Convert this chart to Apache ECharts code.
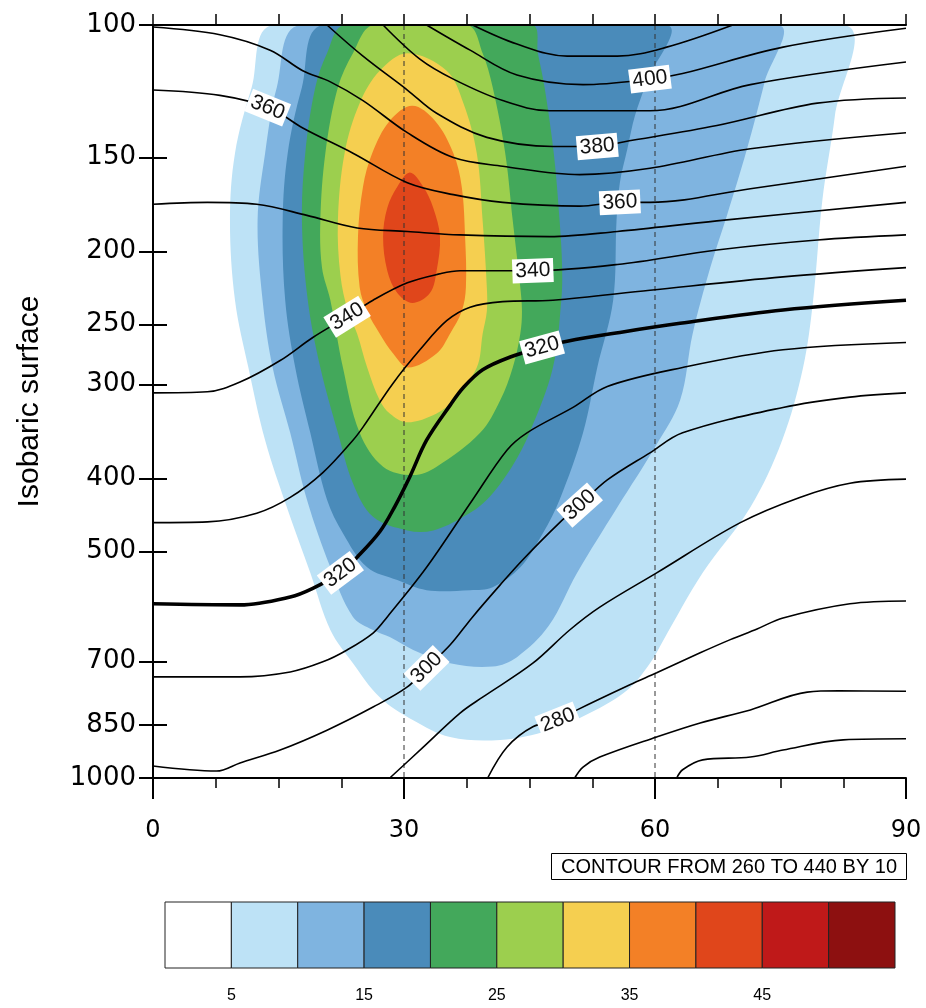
<!DOCTYPE html>
<html>
<head>
<meta charset="utf-8">
<script src="https://cdn.jsdelivr.net/npm/echarts@6/dist/echarts.min.js"></script>
<style>
  html, body { margin: 0; padding: 0; background: #fff; }
  #chart { width: 926px; height: 1008px; }
</style>
</head>
<body>
<div id="chart"></div>
<script>
// ---- data: [latitude, pressure hPa] ----
const pressureTicks = [100, 150, 200, 250, 300, 400, 500, 700, 850, 1000];
const latTicks = [0, 30, 60, 90];
const binEdges = [0, 5, 10, 15, 20, 25, 30, 35, 40, 45, 50, 55];
const barLabels = [5, 15, 25, 35, 45];
const shadeColors = ['#ffffff', '#bde2f6', '#7fb4e0', '#4a8bba', '#43a85b', '#9ccf4e',
                     '#f5cf50', '#f38026', '#e0461b', '#bf1919', '#8d1010'];

// wind speed shading, outline of each level (>=5, >=10, ...)
const spd5 = [[14.4,100],[82.6,100],[81.5,132],[80.0,171],[78.9,232],[77.7,285],[75.2,356],[71.4,437],[65.7,534],[61.0,656],[59.4,704],[56.7,764],[52.2,820],[47.4,864],[41.5,890],[35.5,882],[31.1,838],[27.1,781],[23.9,704],[21.2,636],[18.8,534],[16.0,437],[13.4,356],[11.4,285],[9.8,232],[9.2,182],[9.8,148],[11.8,121]];
const spd10 = [[17.6,100],[74.7,100],[73.1,119],[71.0,146],[68.6,179],[66.6,210],[64.5,257],[63.0,315],[60.1,362],[55.5,437],[50.7,534],[47.3,628],[43.5,691],[40.6,711],[35.5,704],[31.1,676],[28.3,650],[26.3,636],[23.9,611],[21.2,525],[18.4,427],[16.4,348],[14.3,285],[13.1,232],[12.5,182],[13.4,148],[14.8,121]];
const spd15 = [[20.3,100],[61.4,100],[59.0,119],[57.6,132],[56.7,146],[55.8,162],[55.4,182],[55.0,232],[53.1,285],[51.4,348],[48.6,427],[46.6,473],[43.9,525],[40.6,558],[37.9,563],[32.7,563],[29.2,546],[25.6,525],[22.7,473],[20.8,427],[18.8,348],[17.0,285],[15.8,232],[15.5,182],[16.1,148],[17.8,121]];
const spd20 = [[22.9,100],[45.3,100],[46.0,109],[46.8,121],[47.9,148],[48.6,182],[48.9,210],[48.8,232],[47.8,285],[45.0,348],[42.9,386],[39.9,427],[37.1,450],[33.5,469],[30.4,469],[26.3,450],[23.9,406],[22.1,348],[20.0,285],[18.5,232],[17.8,182],[18.2,148],[19.4,121],[20.8,109]];
const spd25 = [[26.3,100],[37.6,100],[39.4,109],[40.6,121],[42.1,148],[43.0,182],[43.9,223],[44.1,240],[43.9,257],[43.0,285],[41.5,315],[39.1,348],[33.9,386],[31.1,396],[27.5,386],[24.7,348],[22.7,285],[21.2,232],[20.2,210],[20.0,182],[20.6,148],[22.1,121],[23.9,109]];
const spd30 = [[30.4,109],[35.1,115],[37.1,127],[38.7,148],[39.4,182],[39.9,223],[39.9,240],[39.4,257],[38.7,285],[35.9,315],[33.9,328],[30.4,337],[28.3,328],[27.1,315],[25.6,285],[24.4,257],[23.3,240],[22.4,215],[22.1,182],[22.9,148],[24.7,127],[27.1,115]];
const spd35 = [[31.0,128],[33.7,134],[35.9,148],[36.9,164],[37.3,191],[37.4,223],[36.9,240],[35.5,257],[33.9,273],[30.5,285],[28.7,273],[27.1,257],[25.6,240],[24.7,223],[24.5,191],[25.1,164],[26.2,148],[28.3,134]];
const spd40 = [[30.7,157],[32.3,164],[33.5,175],[34.3,191],[33.9,212],[33.1,227],[31.0,234],[29.2,227],[28.0,212],[27.5,191],[28.0,175],[29.2,164]];
const shadeLevels = [spd5, spd10, spd15, spd20, spd25, spd30, spd35, spd40];

// potential temperature isolines
const th260 = [[62.6,1000],[63.3,975],[65.7,946],[71.4,938],[75.3,918],[82.5,890],[90,887]];
const th270 = [[50.4,1000],[51.4,967],[53.4,938],[60.2,882],[65.4,845],[71.4,812],[78.2,769],[82,766],[90,767]];
const th280 = [[40.0,1000],[42.3,910],[45.4,855],[48.4,838],[50.7,812],[57.0,752],[60.2,725],[65.4,682],[69.0,655],[72.2,634],[75.3,613],[83.3,587],[90,582]];
const th290 = [[28.3,1000],[32.3,910],[36.7,820],[39.4,781],[45.4,704],[49.8,636],[53.4,593],[60.2,534],[70.2,458],[77.3,424],[83.3,406],[90,401]];
const th300 = [[0,964],[7.6,979],[10.4,955],[15.2,918],[20.8,864],[26.3,805],[30.4,757],[32.7,714],[35.5,666],[38.2,611],[41.5,554],[44.2,513],[48.6,458],[51.0,434],[54.3,402],[59.4,370],[63.3,348],[75.3,322],[83.3,312],[90,308]];
const th310 = [[0,734],[10.4,734],[16.4,723],[20.3,701],[23.2,676],[26.3,642],[28.0,611],[32.7,525],[38.2,427],[42.3,367],[44.7,348],[50.2,322],[54.3,302],[63.3,285],[75.3,270],[90,264]];
const th320 = [[0,587],[10.4,589],[16.4,575],[19.1,560],[22.4,534],[24.4,509],[27.1,471],[28.9,436],[30.7,398],[32.7,356],[35.5,320],[37.1,303],[39.4,287],[42.7,276],[46.5,268],[49.5,263],[55.8,256],[63.0,249],[75.3,239],[90,232]];
const th330 = [[0,458],[6.5,457],[12.4,445],[16.4,424],[20.3,393],[23.9,356],[25.1,342],[28.7,299],[31.9,270],[35.1,247],[37.9,237],[41.8,233],[47.8,232],[59.4,225],[75.3,216],[90,210]];
const th340 = [[0,308],[6.5,307],[10.4,298],[15.2,279],[19.1,260],[23.2,244],[26.3,232],[30.4,220],[34.3,214],[36.7,212],[45.4,212],[55.5,208],[67.4,199],[79.4,193],[90,190]];
const th350 = [[0,173],[6.5,172],[12.4,173],[18.4,179],[24.4,186],[30.4,188],[36.7,190],[47.4,191],[55.5,188],[67.4,182],[90,172]];
const th360 = [[0,122],[8.0,124],[14.0,129],[17.9,137],[23.9,148],[30.4,162],[35.9,168],[41.8,172],[51.0,174],[55.8,172],[59.4,172],[71.4,165],[90,154]];
const th370 = [[0,100.6],[8.0,103],[14.0,108],[17.9,115],[21.2,119],[25.1,126],[30.4,139],[35.9,150],[41.8,154],[51.0,158],[59.4,155],[71.4,146],[90,139]];
const th380 = [[20.8,100],[25.1,110],[30.4,122],[33.9,131],[39.9,141],[47.8,145],[53.1,145],[56.2,143],[67.4,136],[79.4,127],[90,125]];
const th390 = [[27.5,100],[31.9,111],[35.9,118],[41.8,126],[47.4,130],[59.4,130],[71.4,120],[90,112]];
const th400 = [[32.7,100],[37.9,108],[43.5,116.5],[51.4,120],[59.4,118],[63.3,116],[75.3,107],[90,101]];
const th410 = [[38.2,100],[43.5,106],[49.5,110],[55.5,110],[61.4,107],[69.3,100]];
const thetaValues = [260, 270, 280, 290, 300, 310, 320, 330, 340, 350, 360, 370, 380, 390, 400, 410];
const thetaLines = [th260, th270, th280, th290, th300, th310, th320, th330, th340, th350, th360, th370, th380, th390, th400, th410];

// in-line contour labels: [theta, latitude]
const thetaLabels = [[360,13.7],[400,59.4],[380,53.1],[360,55.8],[340,45.4],[340,23.2],
                     [320,46.5],[320,22.4],[300,51.0],[300,32.7],[280,48.4]];
const guideLats = [30, 60];

// ---- helpers ----
const LG = p => Math.log10(p);
const toXY = pts => pts.map(([lat, p]) => [lat, LG(p)]);
function lineAt(pts, lat) {
  for (let i = 0; i < pts.length - 1; i++) {
    const a = pts[i], b = pts[i + 1];
    if ((lat - a[0]) * (lat - b[0]) <= 0) {
      const t = (lat - a[0]) / ((b[0] - a[0]) || 1);
      return LG(a[1]) + t * (LG(b[1]) - LG(a[1]));
    }
  }
  return LG(pts[pts.length - 1][1]);
}

const FONT = 'Liberation Sans, Arial, sans-serif';
const DIGITS = 'DejaVu Sans, sans-serif';
const pTicks = pressureTicks.map(LG);

const series = [];

// shaded wind speed
series.push({
  type: 'custom',
  z: 1,
  clip: true,
  silent: true,
  data: shadeLevels.map(s => [s[0][0], LG(s[0][1])]),
  renderItem: (params, api) => {
    const pts = shadeLevels[params.dataIndex].map(([lat, p]) => api.coord([lat, LG(p)]));
    return {
      type: 'polygon',
      shape: { points: pts, smooth: 0.35 },
      style: { fill: shadeColors[params.dataIndex + 1] }
    };
  }
});

// dashed guides
guideLats.forEach(lat => {
  series.push({
    type: 'line', z: 3, silent: true, symbol: 'none', animation: false,
    data: [[lat, LG(100)], [lat, LG(1000)]],
    lineStyle: { color: '#333', width: 1, type: [5, 4] }
  });
});

// theta contours
thetaLines.forEach((pts, i) => {
  series.push({
    type: 'line', z: 4, silent: true, symbol: 'none', animation: false,
    smooth: 0.35, clip: true,
    data: toXY(pts),
    lineStyle: { color: '#000', width: thetaValues[i] === 320 ? 3.6 : 1.6 }
  });
});

// contour labels
series.push({
  type: 'custom', z: 6, silent: true, clip: false,
  data: thetaLabels.map(([t, lat]) => [lat, lineAt(thetaLines[thetaValues.indexOf(t)], lat)]),
  renderItem: (params, api) => {
    const [t, lat] = thetaLabels[params.dataIndex];
    const pts = thetaLines[thetaValues.indexOf(t)];
    const c = api.coord([lat, lineAt(pts, lat)]);
    const a = api.coord([lat - 2, lineAt(pts, lat - 2)]);
    const b = api.coord([lat + 2, lineAt(pts, lat + 2)]);
    const ang = -Math.atan2(b[1] - a[1], b[0] - a[0]);
    return {
      type: 'text', x: c[0], y: c[1], rotation: ang,
      style: {
        text: String(t), x: 0, y: 0, align: 'center', verticalAlign: 'middle',
        fill: '#111', font: '21px ' + FONT,
        backgroundColor: '#fff', padding: [2, 3, 1, 3]
      }
    };
  }
});

// colour bar
series.push({
  type: 'custom', xAxisIndex: 2, yAxisIndex: 2, silent: true,
  data: binEdges.slice(0, -1).map((e, i) => [e, binEdges[i + 1]]),
  encode: { x: [0, 1] },
  renderItem: (params, api) => {
    const p0 = api.coord([api.value(0), 1]);
    const p1 = api.coord([api.value(1), 0]);
    return {
      type: 'rect',
      shape: { x: p0[0], y: p0[1], width: p1[0] - p0[0], height: p1[1] - p0[1] },
      style: { fill: shadeColors[params.dataIndex], stroke: '#222', lineWidth: 1 }
    };
  }
});

const myChart = echarts.init(document.getElementById('chart'), null, { renderer: 'canvas' });

const option = {
  animation: false,
  backgroundColor: '#fff',
  grid: [
    { left: 153, right: 20, top: 25, bottom: 230, outerBoundsMode: 'none' },
    { left: 165, top: 902, width: 730, height: 66, outerBoundsMode: 'none' }
  ],
  xAxis: [
    {
      type: 'value', gridIndex: 0, position: 'bottom', min: 0, max: 90, interval: 30, z: 10,
      axisLine: { lineStyle: { color: '#000', width: 2 } },
      axisTick: { customValues: latTicks, length: 21, lineStyle: { color: '#000', width: 2 } },
      minorTick: { show: true, splitNumber: 4, length: 10, lineStyle: { color: '#000', width: 1.5 } },
      axisLabel: { customValues: latTicks, margin: 41, fontSize: 24, fontFamily: DIGITS, color: '#000' },
      splitLine: { show: false }, minorSplitLine: { show: false }
    },
    {
      type: 'value', gridIndex: 0, position: 'top', min: 0, max: 90, interval: 7.5, z: 10,
      axisLine: { lineStyle: { color: '#000', width: 2 } },
      axisTick: { length: 11, lineStyle: { color: '#000', width: 1.5 } },
      axisLabel: { show: false },
      splitLine: { show: false }
    },
    {
      type: 'value', gridIndex: 1, min: 0, max: 55, interval: 5,
      axisLine: { show: false }, axisTick: { show: false },
      axisLabel: { customValues: barLabels, margin: 20, fontSize: 16, fontFamily: FONT, color: '#000' },
      splitLine: { show: false }
    }
  ],
  yAxis: [
    {
      type: 'value', gridIndex: 0, position: 'left', inverse: true,
      min: LG(100), max: LG(1000), z: 10,
      name: 'Isobaric surface', nameLocation: 'middle', nameGap: 108, nameMoveOverlap: false,
      nameTextStyle: { fontSize: 30, fontFamily: FONT, color: '#000' },
      axisLine: { lineStyle: { color: '#000', width: 2 } },
      axisTick: { customValues: pTicks, length: 14, lineStyle: { color: '#000', width: 2 } },
      axisLabel: {
        customValues: pTicks, margin: 17, fontSize: 26, fontFamily: DIGITS, color: '#000',
        formatter: v => String(Math.round(Math.pow(10, v)))
      },
      splitLine: { show: false }
    },
    {
      type: 'value', gridIndex: 0, position: 'right', inverse: true,
      min: LG(100), max: LG(1000), z: 10,
      axisLine: { lineStyle: { color: '#000', width: 2 } },
      axisTick: { customValues: pTicks, length: 14, lineStyle: { color: '#000', width: 2 } },
      axisLabel: { show: false },
      splitLine: { show: false }
    },
    { type: 'value', gridIndex: 1, min: 0, max: 1, show: false }
  ],
  graphic: [
    {
      type: 'group', left: 551, top: 853,
      children: [
        { type: 'rect', shape: { x: 0, y: 0, width: 355, height: 26 }, style: { fill: '#fff', stroke: '#000', lineWidth: 1 } },
        { type: 'text', x: 177.5, y: 14, style: { text: 'CONTOUR FROM 260 TO 440 BY 10', align: 'center', verticalAlign: 'middle', font: '20px ' + FONT, fill: '#000' } }
      ]
    }
  ],
  series: series
};

myChart.setOption(option);
</script>
</body>
</html>
